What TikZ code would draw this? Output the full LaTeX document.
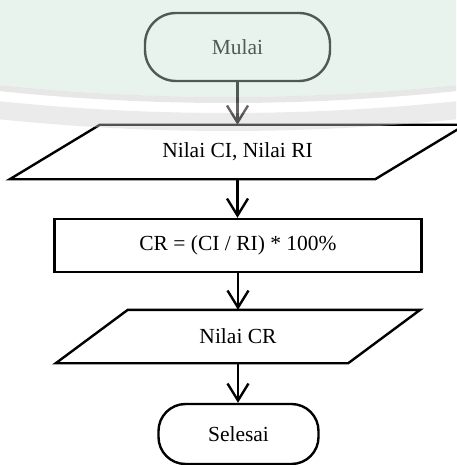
\documentclass[tikz,border=0pt]{standalone}
\usepackage{fontspec}
\setmainfont{Liberation Serif}
\usetikzlibrary{arrows.meta,calc}
\definecolor{washgreen}{HTML}{C9E2D3}
\definecolor{washgrey}{HTML}{C4C4C4}
\begin{document}
\begin{tikzpicture}[x=1pt,y=-1pt,
  every node/.style={font=\fontsize{21.5}{25}\selectfont, inner sep=0pt},
  outline/.style={draw=black, line width=2.4pt, line join=miter},
  terminal/.style={outline, rectangle},
  process/.style={outline, rectangle},
  iotext/.style={rectangle},
  flow/.style={draw=black, line width=2.4pt, -{Straight Barb[length=17pt,width=21pt]}}]
\useasboundingbox (0,0) rectangle (456,465);

% start and end terminals
\node[terminal, rounded corners=31pt, minimum width=185pt, minimum height=68pt]
  (start) at (237.5,47) {Mulai};
\node[terminal, rounded corners=27pt, minimum width=160pt, minimum height=60pt]
  (stop) at (238.5,434) {Selesai};

% input: CI and RI (parallelogram drawn around the text box)
\node[iotext, minimum width=275pt, minimum height=54pt] (in1) at (237.5,152) {Nilai CI, Nilai RI};
\draw[outline] (in1.north west) -- ($(in1.north east)+(90,0)$) -- (in1.south east)
  -- ($(in1.south west)+(-90,0)$) -- cycle;

% computation step
\node[process, minimum width=367pt, minimum height=53pt] (calc) at (238,245.5) {CR = (CI / RI) * 100\%};

% output: CR
\node[iotext, minimum width=220pt, minimum height=53pt] (in2) at (238,336.5) {Nilai CR};
\draw[outline] (in2.north west) -- ($(in2.north east)+(72,0)$) -- (in2.south east)
  -- ($(in2.south west)+(-72,0)$) -- cycle;

% flow lines
\draw[flow] (start.south) -- (start.south |- in1.north);
\draw[flow] (in1.south) -- (in1.south |- calc.north);
\draw[flow] (calc.south) -- (calc.south |- in2.north);
\draw[flow] (in2.south) -- (in2.south |- stop.north);

% pale watermark wash over the upper part of the page
\begin{scope}
  \clip (0,0) rectangle (456,465);
  \fill[washgreen, fill opacity=0.4] (228,-2075) circle[radius=2172pt];
  \fill[washgrey, fill opacity=0.4, even odd rule]
    (228,-2075) circle[radius=2178pt] (228,-2075) circle[radius=2172pt];
  \fill[white, fill opacity=0.4, even odd rule]
    (228,-2075) circle[radius=2188pt] (228,-2075) circle[radius=2178pt];
  \fill[washgrey!85!white, fill opacity=0.4, even odd rule]
    (228,-2075) circle[radius=2206pt] (228,-2075) circle[radius=2188pt];
\end{scope}
\end{tikzpicture}
\end{document}
